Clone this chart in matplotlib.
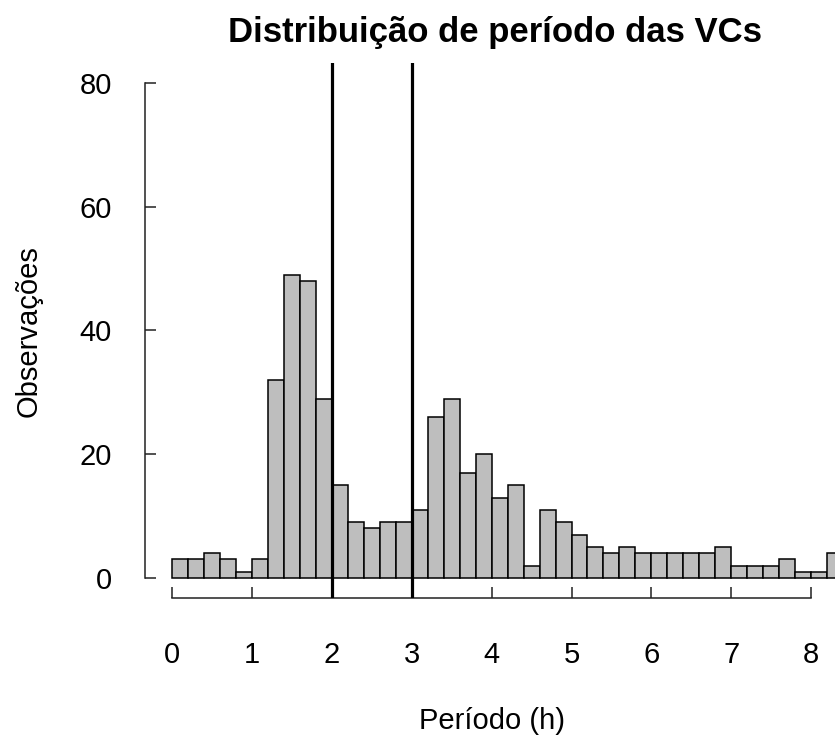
import matplotlib
matplotlib.use('Agg')
import matplotlib.pyplot as plt
import numpy as np

# histogram of VC periods, bins of 0.2 h
bin_edges = np.round(np.arange(0, 8.4001, 0.2), 2)
counts = [3, 3, 4, 3, 1, 3, 32, 49, 48, 29,
          15, 9, 8, 9, 9, 11, 26, 29, 17, 20,
          13, 15, 2, 11, 9, 7, 5, 4, 5, 4,
          4, 4, 4, 4, 5, 2, 2, 2, 3, 1,
          1, 4]
cut_lines = [2, 3]
x_ticks = [0, 1, 2, 3, 4, 5, 6, 7, 8]
y_ticks = [0, 20, 40, 60, 80]

plt.rcParams['font.family'] = ['Liberation Sans', 'DejaVu Sans']

fig = plt.figure(figsize=(8.35, 7.36), dpi=100)
ax = fig.add_axes([0.1739, 0.1878, 0.868, 0.7264])

ax.bar(bin_edges[:-1], counts, width=0.2, align='edge',
       color='#bebebe', edgecolor='black', linewidth=1.1, zorder=2)
for x in cut_lines:
    ax.axvline(x, color='black', linewidth=2.3, zorder=3)

ax.set_xlim(-0.336, 8.736)
ax.set_ylim(-3.2, 83.2)

for s in ['top', 'right']:
    ax.spines[s].set_visible(False)
ax.spines['left'].set_bounds(0, 80)
ax.spines['bottom'].set_bounds(0, 8)
for s in ['left', 'bottom']:
    ax.spines[s].set_linewidth(1.1)
    ax.spines[s].set_color('#222222')

ax.set_xticks(x_ticks)
ax.set_yticks(y_ticks)
ax.tick_params(axis='both', direction='in', length=8, width=1.1,
               color='#222222', labelsize=21)
ax.tick_params(axis='x', pad=31)
ax.tick_params(axis='y', pad=24)

fig.text(0.593, 0.943, 'Distribuição de período das VCs', ha='center',
         va='baseline', fontsize=25, fontweight='bold')
fig.text(0.589, 0.0095, 'Período (h)', ha='center', va='baseline', fontsize=21)
fig.text(0.034, 0.55, 'Observações', ha='center', va='center',
         rotation=90, fontsize=21)

fig.savefig('out.png', dpi=100)
